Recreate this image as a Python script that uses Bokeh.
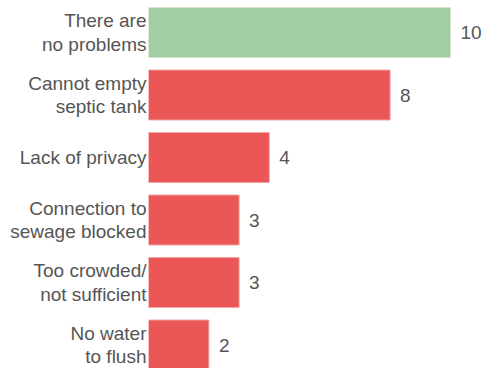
from bokeh.plotting import figure
from bokeh.models import ColumnDataSource, Range1d, FixedTicker
from bokeh.core.properties import value
from bokeh.embed import file_html
from bokeh.resources import INLINE

categories = ["There are\nno problems", "Cannot empty\nseptic tank", "Lack of privacy",
              "Connection to\nsewage blocked", "Too crowded/\nnot sufficient", "No water\nto flush"]
counts = [10, 8, 4, 3, 3, 2]
colors = ["#a3cda3", "#eb5757", "#eb5757", "#eb5757", "#eb5757", "#eb5757"]
outlines = ["#d3e6cc", "#f3a3a3", "#f3a3a3", "#f3a3a3", "#f3a3a3", "#f3a3a3"]

pos = list(range(len(categories)))
src = ColumnDataSource(dict(y=pos, v=counts, c=colors, o=outlines,
                            lab=[str(c) for c in counts]))

p = figure(width=484, height=368, output_backend="svg", toolbar_location=None,
           x_range=Range1d(0, 11.126), y_range=Range1d(5.376, -0.512),
           min_border_left=148, min_border_right=0, min_border_top=0, min_border_bottom=0)
p.hbar(y="y", right="v", left=0, height=0.8, fill_color="c", line_color="o", line_width=1, source=src)
p.text(x="v", y="y", text="lab", x_offset=10, text_baseline="middle", text_align="left",
       text_font=value("Liberation Sans"), text_font_size="19px", text_color="#555555", source=src)

p.xaxis.visible = False
p.grid.visible = False
p.outline_line_color = None
ax = p.yaxis[0]
ax.ticker = FixedTicker(ticks=pos)
ax.major_label_overrides = {i: c for i, c in zip(pos, categories)}
ax.axis_line_color = None
ax.major_tick_line_color = None
ax.minor_tick_line_color = None
ax.major_tick_out = 0
ax.major_tick_in = 0
ax.major_label_standoff = 2
ax.major_label_text_font = "Liberation Sans"
ax.major_label_text_font_size = "19px"
ax.major_label_text_color = "#555555"
ax.major_label_text_line_height = 1.13

open("out.html", "w").write(file_html(p, INLINE))
